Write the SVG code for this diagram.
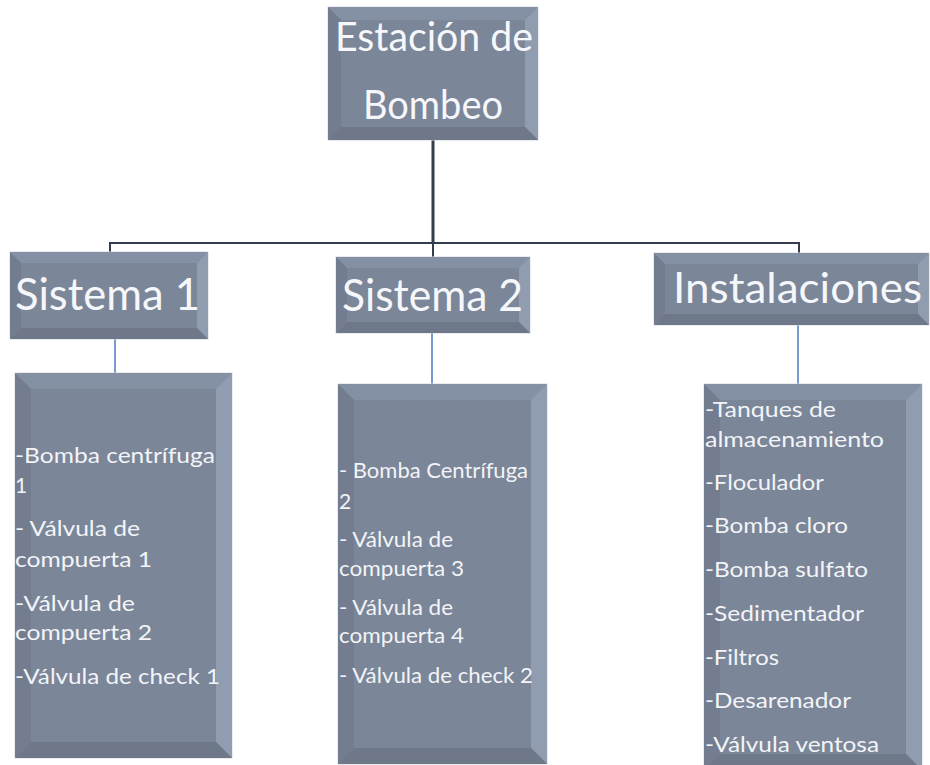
<svg xmlns="http://www.w3.org/2000/svg" width="930" height="765" viewBox="0 0 930 765">
<style>
.face{fill:#7b8699;stroke:#d3d8e0;stroke-width:1}
.bt{fill:#8490a3}
.bl{fill:#737d8f}
.br{fill:#909caf}
.bb{fill:#6e7889}
.h{font-family:Lato,"Liberation Sans",sans-serif;fill:#f5f7fa}
.l{font-family:Lato,"Liberation Sans",sans-serif;fill:#f2f4f7;font-size:21px}
.dk{stroke:#333d4b;fill:none}
.bl-ln{stroke:#4a78c8;stroke-width:1.5;fill:none}
</style>
<rect width="930" height="765" fill="#ffffff"/>
<g id="connectors">
<line class="dk" x1="433" y1="140" x2="433" y2="244" stroke-width="3"/>
<polyline class="dk" points="110,252 110,243 799,243 799,253" stroke-width="2"/>
<line class="dk" x1="433" y1="243" x2="433" y2="257" stroke-width="2"/>
<line class="bl-ln" x1="115" y1="339" x2="115" y2="374"/>
<line class="bl-ln" x1="432" y1="333" x2="432" y2="384"/>
<line class="bl-ln" x1="798" y1="325" x2="798" y2="384"/>
</g>
<g id="estacion">
<rect class="face" x="328" y="7" width="210" height="133"/>
<polygon class="bt" points="328,7 538,7 525,20 341,20"/>
<polygon class="bl" points="328,7 341,20 341,127 328,140"/>
<polygon class="br" points="538,7 538,140 525,127 525,20"/>
<polygon class="bb" points="328,140 341,127 525,127 538,140"/>
<text class="h" x="335" y="51" font-size="40" textLength="198" lengthAdjust="spacingAndGlyphs">Estación de</text>
<text class="h" x="363" y="119" font-size="40" textLength="140" lengthAdjust="spacingAndGlyphs">Bombeo</text>
</g>
<g id="sistema1">
<rect class="face" x="10" y="252" width="198" height="87"/>
<polygon class="bt" points="10,252 208,252 197,263 21,263"/>
<polygon class="bl" points="10,252 21,263 21,328 10,339"/>
<polygon class="br" points="208,252 208,339 197,328 197,263"/>
<polygon class="bb" points="10,339 21,328 197,328 208,339"/>
<text class="h" x="15" y="310" font-size="44" textLength="185" lengthAdjust="spacingAndGlyphs">Sistema 1</text>
</g>
<g id="sistema2">
<rect class="face" x="336" y="257" width="194" height="76"/>
<polygon class="bt" points="336,257 530,257 519,268 347,268"/>
<polygon class="bl" points="336,257 347,268 347,322 336,333"/>
<polygon class="br" points="530,257 530,333 519,322 519,268"/>
<polygon class="bb" points="336,333 347,322 519,322 530,333"/>
<text class="h" x="342" y="311" font-size="44" textLength="181" lengthAdjust="spacingAndGlyphs">Sistema 2</text>
</g>
<g id="instalaciones">
<rect class="face" x="654" y="253" width="275" height="72"/>
<polygon class="bt" points="654,253 929,253 918,264 665,264"/>
<polygon class="bl" points="654,253 665,264 665,314 654,325"/>
<polygon class="br" points="929,253 929,325 918,314 918,264"/>
<polygon class="bb" points="654,325 665,314 918,314 929,325"/>
<text class="h" x="673" y="303" font-size="42" textLength="249" lengthAdjust="spacingAndGlyphs">Instalaciones</text>
</g>
<g id="lista1">
<rect class="face" x="15" y="373" width="217" height="385"/>
<polygon class="bt" points="15,373 232,373 216,389 31,389"/>
<polygon class="bl" points="15,373 31,389 31,742 15,758"/>
<polygon class="br" points="232,373 232,758 216,742 216,389"/>
<polygon class="bb" points="15,758 31,742 216,742 232,758"/>
<text class="l" x="15" y="463" textLength="200" lengthAdjust="spacingAndGlyphs">-Bomba centrífuga</text>
<text class="l" x="15" y="493">1</text>
<text class="l" x="15" y="536" textLength="125" lengthAdjust="spacingAndGlyphs">- Válvula de</text>
<text class="l" x="15" y="567" textLength="137" lengthAdjust="spacingAndGlyphs">compuerta 1</text>
<text class="l" x="15" y="611" textLength="120" lengthAdjust="spacingAndGlyphs">-Válvula de</text>
<text class="l" x="15" y="640" textLength="137" lengthAdjust="spacingAndGlyphs">compuerta 2</text>
<text class="l" x="15" y="684" textLength="205" lengthAdjust="spacingAndGlyphs">-Válvula de check 1</text>
</g>
<g id="lista2">
<rect class="face" x="338" y="384" width="209" height="380"/>
<polygon class="bt" points="338,384 547,384 531,400 354,400"/>
<polygon class="bl" points="338,384 354,400 354,748 338,764"/>
<polygon class="br" points="547,384 547,764 531,748 531,400"/>
<polygon class="bb" points="338,764 354,748 531,748 547,764"/>
<text class="l" x="339" y="478" textLength="189" lengthAdjust="spacingAndGlyphs">- Bomba Centrífuga</text>
<text class="l" x="339" y="509">2</text>
<text class="l" x="339" y="547" textLength="114" lengthAdjust="spacingAndGlyphs">- Válvula de</text>
<text class="l" x="339" y="576" textLength="125" lengthAdjust="spacingAndGlyphs">compuerta 3</text>
<text class="l" x="339" y="615" textLength="114" lengthAdjust="spacingAndGlyphs">- Válvula de</text>
<text class="l" x="339" y="643" textLength="125" lengthAdjust="spacingAndGlyphs">compuerta 4</text>
<text class="l" x="339" y="683" textLength="194" lengthAdjust="spacingAndGlyphs">- Válvula de check 2</text>
</g>
<g id="lista3">
<rect class="face" x="704" y="384" width="218" height="386"/>
<polygon class="bt" points="704,384 922,384 906,400 720,400"/>
<polygon class="bl" points="704,384 720,400 720,754 704,770"/>
<polygon class="br" points="922,384 922,770 906,754 906,400"/>
<polygon class="bb" points="704,770 720,754 906,754 922,770"/>
<text class="l" x="705" y="417" textLength="131" lengthAdjust="spacingAndGlyphs">-Tanques de</text>
<text class="l" x="705" y="447" textLength="179" lengthAdjust="spacingAndGlyphs">almacenamiento</text>
<text class="l" x="705" y="490" textLength="119" lengthAdjust="spacingAndGlyphs">-Floculador</text>
<text class="l" x="705" y="533" textLength="143" lengthAdjust="spacingAndGlyphs">-Bomba cloro</text>
<text class="l" x="705" y="577" textLength="163" lengthAdjust="spacingAndGlyphs">-Bomba sulfato</text>
<text class="l" x="705" y="621" textLength="159" lengthAdjust="spacingAndGlyphs">-Sedimentador</text>
<text class="l" x="705" y="665" textLength="74" lengthAdjust="spacingAndGlyphs">-Filtros</text>
<text class="l" x="705" y="708" textLength="146" lengthAdjust="spacingAndGlyphs">-Desarenador</text>
<text class="l" x="705" y="752" textLength="174" lengthAdjust="spacingAndGlyphs">-Válvula ventosa</text>
</g>
</svg>
